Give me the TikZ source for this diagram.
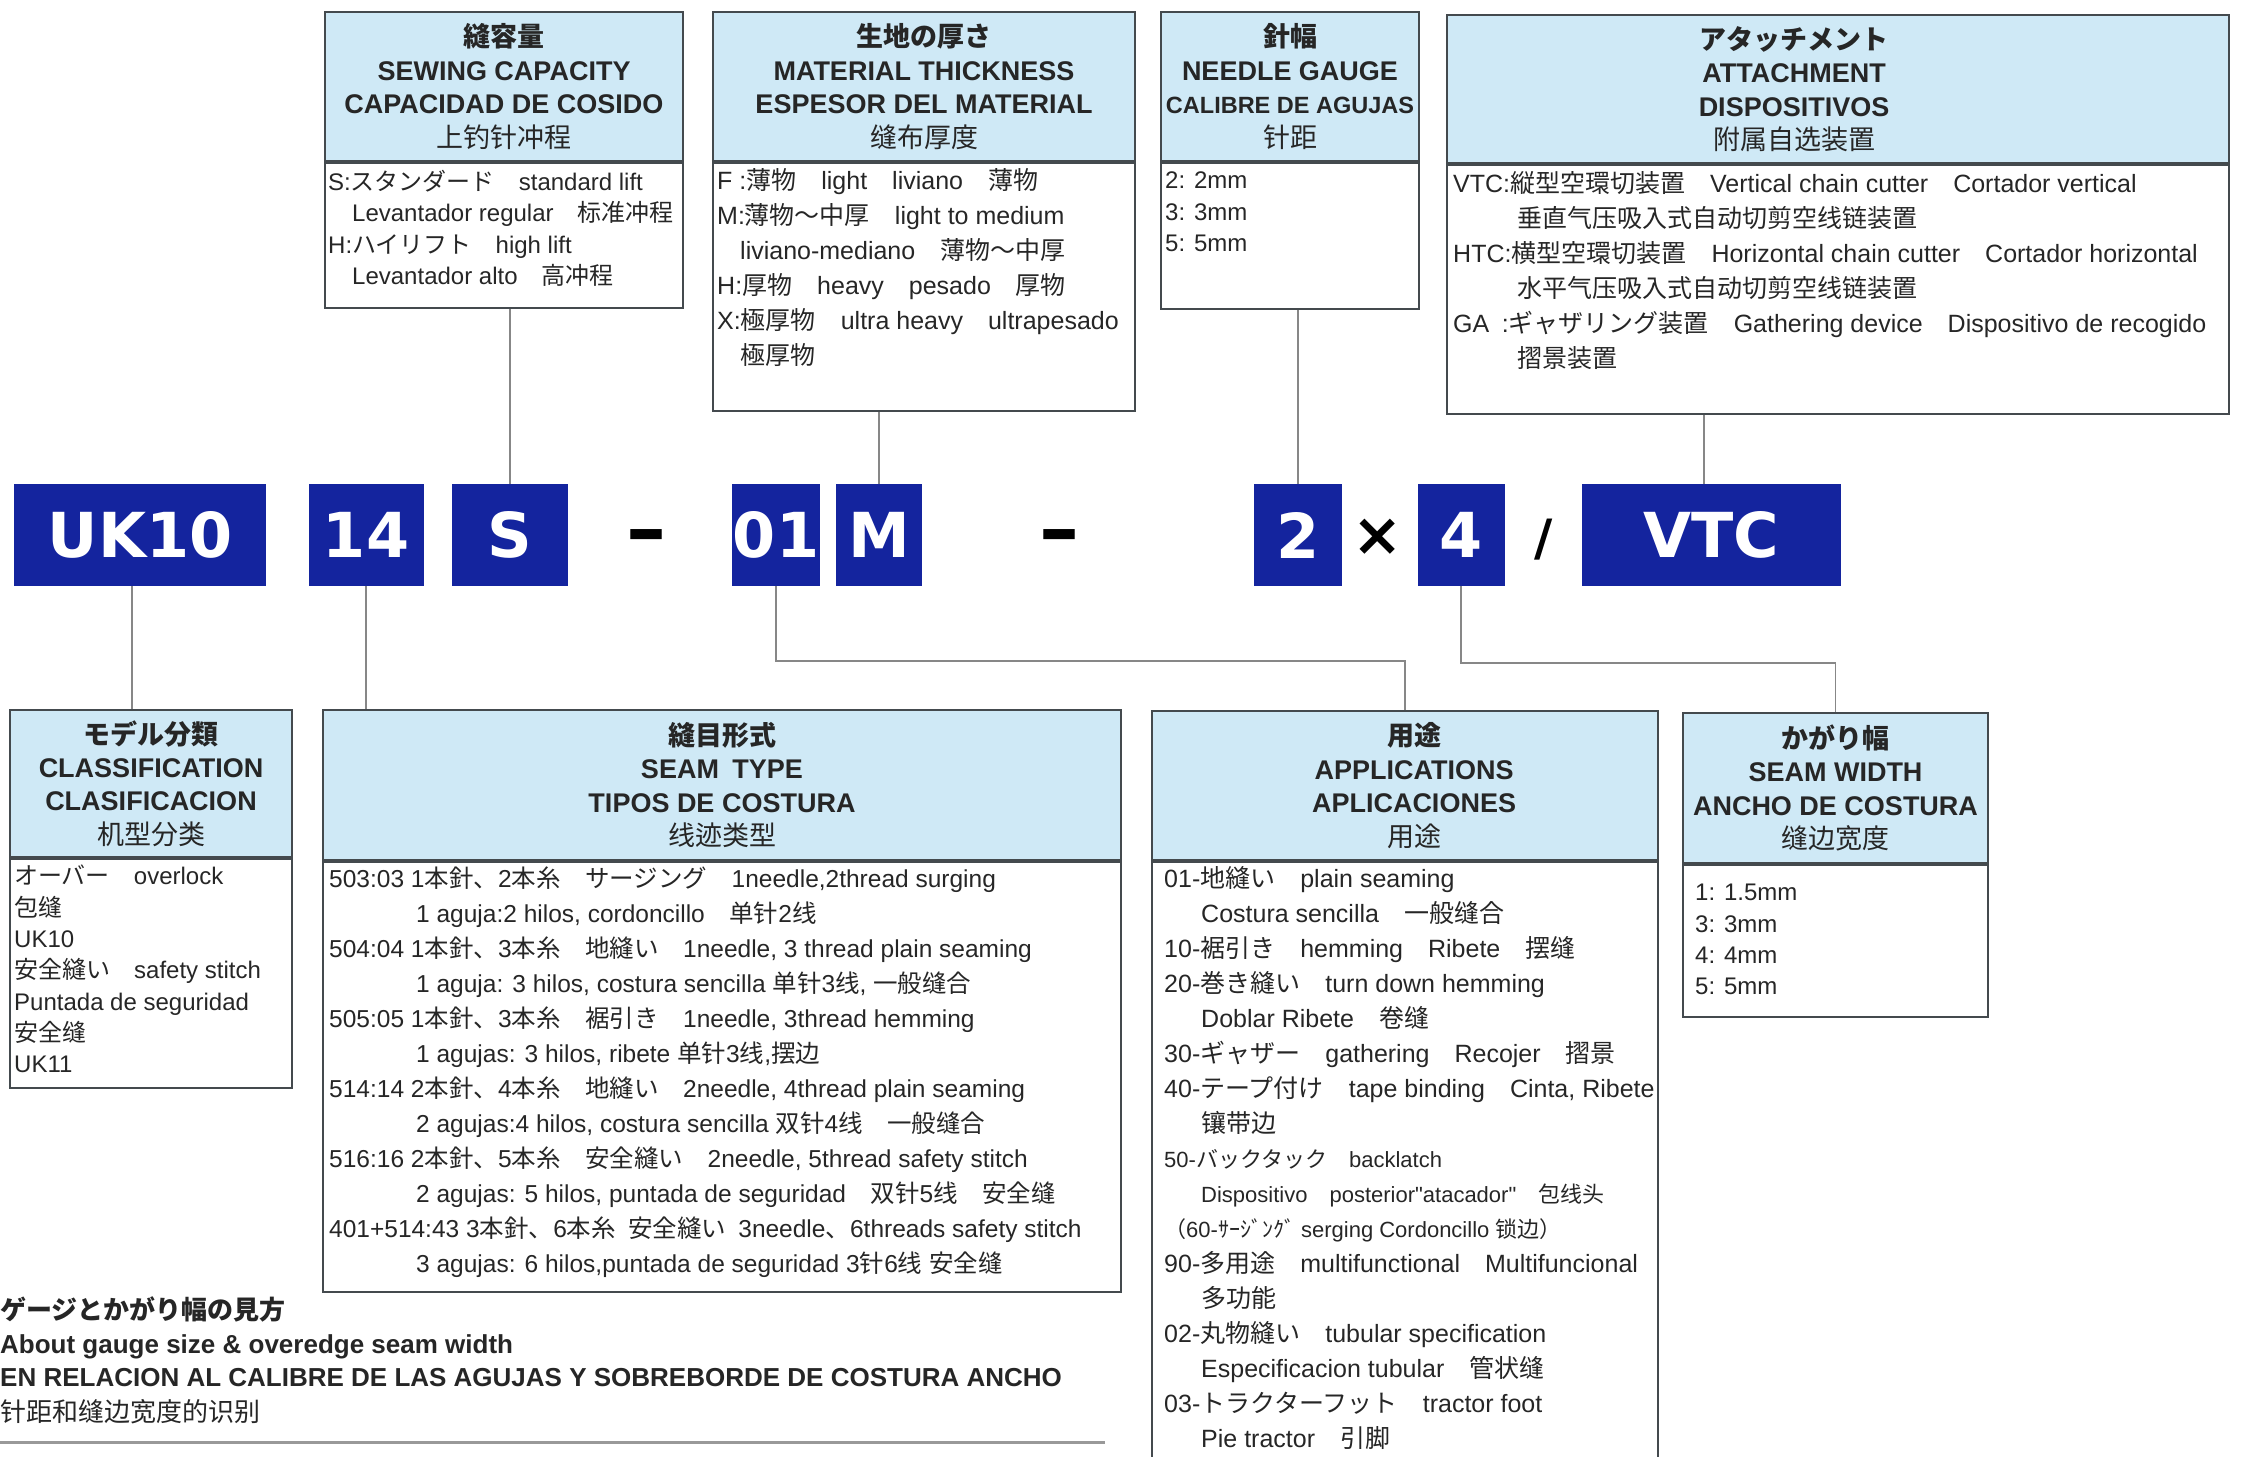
\documentclass[tikz,border=0pt]{standalone}
\usepackage{fontspec}
\setmainfont{Liberation Sans}
\newfontfamily\cjk{Noto Sans CJK JP}
\newfontfamily\codefam{DejaVu Sans}
\usetikzlibrary{positioning}

\definecolor{codeblue}{RGB}{20,36,158}
\definecolor{headblue}{RGB}{207,233,246}
\definecolor{boxline}{RGB}{68,74,78}
\definecolor{linkgray}{RGB}{135,135,135}
\definecolor{ink}{RGB}{38,38,38}

% CJK characters switch to the CJK font by themselves
\newXeTeXintercharclass\cjkclass
\makeatletter
\count@="3000
\loop\ifnum\count@<"A000
  \XeTeXcharclass\count@=\cjkclass
  \advance\count@\@ne
\repeat
\count@="FF00
\loop\ifnum\count@<"FFF0
  \XeTeXcharclass\count@=\cjkclass
  \advance\count@\@ne
\repeat
\makeatother
\XeTeXinterchartoks 0 \cjkclass = {\cjk}
\XeTeXinterchartoks 4095 \cjkclass = {\cjk}
\XeTeXinterchartoks \cjkclass 0 = {\rmfamily}
\XeTeXinterchartoks \cjkclass 4095 = {\rmfamily}
\XeTeXinterchartokenstate=1

\newcommand\headfont{\fontsize{27}{33.4}\selectfont\bfseries}
\newcommand\bodyfont{\fontsize{25}{35}\selectfont}
\newcommand\bodyfontS{\fontsize{24}{31.3}\selectfont}
\newcommand\smallline{\fontsize{22}{35}\selectfont}
\newcommand\codefont{\codefam\bfseries\fontsize{62}{62}\selectfont}
\newcommand\dashfont{\codefam\bfseries\fontsize{80}{80}\selectfont}
\newcommand\timesfont{\codefam\bfseries\fontsize{60}{60}\selectfont}
\newcommand\slashfont{\codefam\bfseries\fontsize{50}{50}\selectfont}
\newcommand\footfont{\fontsize{26}{26}\selectfont}
\newcommand\ind[1]{\hspace*{#1pt}}

\begin{document}
\begin{tikzpicture}[x=1pt, y=-1pt,
    headbox/.style={draw=boxline, line width=2pt, fill=headblue, anchor=north west, inner sep=0pt},
    bodybox/.style={draw=boxline, line width=2pt, inner sep=0pt},
    headtext/.style={align=center, text=ink, font=\headfont, inner sep=0pt},
    bodytext/.style={align=left, text=ink, font=\bodyfont, inner sep=0pt, anchor=north west},
    codebox/.style={fill=codeblue, text=white, minimum height=102pt, inner sep=0pt, font=\codefont},
    sym/.style={text=black, inner sep=0pt, anchor=base},
    foot/.style={text=ink, inner sep=0pt, anchor=base west, font=\footfont},
    link/.style={draw=linkgray, line width=1.6pt}]
\path[use as bounding box, clip] (0,0) rectangle (2245,1456);

% upper boxes
\node[headbox, minimum width=358pt, minimum height=149pt] (scH) at (324,11) {};
\node[bodybox, below=0pt of scH, minimum width=358pt, minimum height=145pt] (scB) {};
\node[headtext] (scT) at (scH.center) {縫容量\\SEWING CAPACITY\\CAPACIDAD DE COSIDO\\\mdseries 上钓针冲程};
\node[bodytext, font=\bodyfontS, below right=8pt and 4pt of scB.north west] (scL) {%
  S:スタンダード\quad standard lift\\
  \ind{24}Levantador regular\quad 标准冲程\\
  H:ハイリフト\quad high lift\\
  \ind{24}Levantador alto\quad 高冲程};

\node[headbox, minimum width=422pt, minimum height=149pt] (mtH) at (712,11) {};
\node[bodybox, below=0pt of mtH, minimum width=422pt, minimum height=248pt] (mtB) {};
\node[headtext] (mtT) at (mtH.center) {生地の厚さ\\MATERIAL THICKNESS\\ESPESOR DEL MATERIAL\\\mdseries 缝布厚度};
\node[bodytext, below right=6pt and 5pt of mtB.north west] (mtL) {%
  F :薄物\quad light\quad liviano\quad 薄物\\
  M:薄物～中厚\quad light to medium\\
  \ind{23}liviano-mediano\quad 薄物～中厚\\
  H:厚物\quad heavy\quad pesado\quad 厚物\\
  X:極厚物\quad ultra heavy\quad ultrapesado\\
  \ind{23}極厚物};

\node[headbox, minimum width=258pt, minimum height=149pt] (ngH) at (1160,11) {};
\node[bodybox, below=0pt of ngH, minimum width=258pt, minimum height=146pt] (ngB) {};
\node[headtext] (ngT) at (ngH.center) {針幅\\NEEDLE GAUGE\\{\fontsize{23.5}{33.4}\selectfont CALIBRE DE AGUJAS}\\\mdseries 针距};
\node[bodytext, font=\bodyfontS, below right=10pt and 5pt of ngB.north west] (ngL) {2: 2mm\\3: 3mm\\5: 5mm};

\node[headbox, minimum width=782pt, minimum height=148pt] (atH) at (1446,14) {};
\node[bodybox, below=0pt of atH, minimum width=782pt, minimum height=249pt] (atB) {};
\node[headtext] (atT) at ([xshift=-44pt]atH.center) {アタッチメント\\ATTACHMENT\\DISPOSITIVOS\\\mdseries 附属自选装置};
\node[bodytext, below right=7pt and 7pt of atB.north west] (atL) {%
  VTC:縦型空環切装置\quad Vertical chain cutter\quad Cortador vertical\\
  \ind{64}垂直气压吸入式自动切剪空线链装置\\
  HTC:横型空環切装置\quad Horizontal chain cutter\quad Cortador horizontal\\
  \ind{64}水平气压吸入式自动切剪空线链装置\\
  GA\enspace:ギャザリング装置\quad Gathering device\quad Dispositivo de recogido\\
  \ind{64}摺景装置};

% model number
\node[codebox, minimum width=252pt] (uk) at (140,535) {UK10};
\node[codebox, minimum width=115pt] (n14) at (366,535) {14};
\node[codebox, minimum width=116pt] (nS) at (510,535) {S};
\node[sym, font=\dashfont] (dashA) at (646,556) {–};
\node[codebox, minimum width=88pt] (n01) at (776,535) {01};
\node[codebox, minimum width=86pt] (nM) at (879,535) {M};
\node[sym, font=\dashfont] (dashB) at (1059,556) {–};
\node[codebox, minimum width=88pt] (n2) at (1298,535) {2};
\node[sym, font=\timesfont] (times) at (1378,555) {×};
\node[codebox, minimum width=87pt] (n4) at (1461,535) {4};
\node[sym, font=\slashfont] (slash) at (1544,555) {/};
\node[codebox, minimum width=259pt] (vtc) at (1711,535) {VTC};

% lower boxes
\node[headbox, minimum width=282pt, minimum height=147pt] (clH) at (9,709) {};
\node[bodybox, below=0pt of clH, minimum width=282pt, minimum height=229pt] (clB) {};
\node[headtext] (clT) at (clH.center) {モデル分類\\CLASSIFICATION\\CLASIFICACION\\\mdseries 机型分类};
\node[bodytext, font=\bodyfontS, below right=7pt and 5pt of clB.north west] (clL) {%
  オーバー\quad overlock\\包缝\\UK10\\安全縫い\quad safety stitch\\Puntada de seguridad\\安全缝\\UK11};

\node[headbox, minimum width=798pt, minimum height=150pt] (stH) at (322,709) {};
\node[bodybox, below=0pt of stH, minimum width=798pt, minimum height=430pt] (stB) {};
\node[headtext] (stT) at (stH.center) {縫目形式\\SEAM\enspace TYPE\\TIPOS DE COSTURA\\\mdseries 线迹类型};
\node[bodytext, font=\fontsize{24.5}{35}\selectfont, below right=6pt and 7pt of stB.north west] (stL) {%
  503:03 1本針、2本糸\quad サージング\quad 1needle,2thread surging\\
  \ind{87}1 aguja:2 hilos, cordoncillo\quad 单针2线\\
  504:04 1本針、3本糸\quad 地縫い\quad 1needle, 3 thread plain seaming\\
  \ind{87}1 aguja: 3 hilos, costura sencilla 单针3线, 一般缝合\\
  505:05 1本針、3本糸\quad 裾引き\quad 1needle, 3thread hemming\\
  \ind{87}1 agujas: 3 hilos, ribete 单针3线,摆边\\
  514:14 2本針、4本糸\quad 地縫い\quad 2needle, 4thread plain seaming\\
  \ind{87}2 agujas:4 hilos, costura sencilla 双针4线\quad 一般缝合\\
  516:16 2本針、5本糸\quad 安全縫い\quad 2needle, 5thread safety stitch\\
  \ind{87}2 agujas: 5 hilos, puntada de seguridad\quad 双针5线\quad 安全缝\\
  401+514:43 3本針、6本糸\enspace 安全縫い\enspace 3needle、6threads safety stitch\\
  \ind{87}3 agujas: 6 hilos,puntada de seguridad 3针6线 安全缝};

\node[headbox, minimum width=506pt, minimum height=149pt] (apH) at (1151,710) {};
\node[bodybox, below=0pt of apH, minimum width=506pt, minimum height=660pt] (apB) {};
\node[headtext] (apT) at ([xshift=9pt]apH.center) {用途\\APPLICATIONS\\APLICACIONES\\\mdseries 用途};
\node[bodytext, below right=5pt and 13pt of apB.north west] (apL) {%
  01-地縫い\quad plain seaming\\
  \ind{37}Costura sencilla\quad 一般缝合\\
  10-裾引き\quad hemming\quad Ribete\quad 摆缝\\
  20-巻き縫い\quad turn down hemming\\
  \ind{37}Doblar Ribete\quad 卷缝\\
  30-ギャザー\quad gathering\quad Recojer\quad 摺景\\
  40-テープ付け\quad tape binding\quad Cinta, Ribete\\
  \ind{37}镶带边\\
  {\smallline 50-バックタック\quad backlatch}\\
  {\smallline\ind{37}Dispositivo\quad posterior\textquotedbl atacador\textquotedbl\quad 包线头}\\
  {\smallline （60-ｻｰｼﾞﾝｸﾞ serging Cordoncillo 锁边）}\\
  90-多用途\quad multifunctional\quad Multifuncional\\
  \ind{37}多功能\\
  02-丸物縫い\quad tubular specification\\
  \ind{37}Especificacion tubular\quad 管状缝\\
  03-トラクターフット\quad tractor foot\\
  \ind{37}Pie tractor\quad 引脚};

\node[headbox, minimum width=305pt, minimum height=150pt] (swH) at (1682,712) {};
\node[bodybox, below=0pt of swH, minimum width=305pt, minimum height=152pt] (swB) {};
\node[headtext] (swT) at (swH.center) {かがり幅\\SEAM WIDTH\\ANCHO DE COSTURA\\\mdseries 缝边宽度};
\node[bodytext, font=\bodyfontS, below right=20pt and 13pt of swB.north west] (swL) {1: 1.5mm\\3: 3mm\\4: 4mm\\5: 5mm};

% connectors
\draw[link] (nS.north) -- (nS.north |- scB.south);
\draw[link] (nM.north) -- (nM.north |- mtB.south);
\draw[link] (n2.north) -- (n2.north |- ngB.south);
\draw[link] ([xshift=-7pt]vtc.north) -- ([xshift=-7pt]vtc.north |- atB.south);
\draw[link] ([xshift=-8pt]uk.south) -- ([xshift=-8pt]uk.south |- clH.north);
\draw[link] (n14.south) -- (n14.south |- stH.north);
\coordinate (apK) at (apH.north |- 0,661);
\coordinate (swK) at (swH.north |- 0,663);
\draw[link] (n01.south) |- (apK) -- (apH.north);
\draw[link] (n4.south) |- (swK) -- (swH.north);

% footnote
\node[foot, font=\footfont\bfseries] (ftJa) at (0,1319) {ゲージとかがり幅の見方};
\node[foot, font=\footfont\bfseries] (ftEn) at (0,1353) {About gauge size \& overedge seam width};
\node[foot, font=\footfont\bfseries] (ftEs) at (0,1386) {EN RELACION AL CALIBRE DE LAS AGUJAS Y SOBREBORDE DE COSTURA ANCHO};
\node[foot] (ftZh) at (0,1421) {针距和缝边宽度的识别};
\draw[draw=linkgray!85, line width=3pt] (0,1442) -- (1105,1442);
\end{tikzpicture}
\end{document}
